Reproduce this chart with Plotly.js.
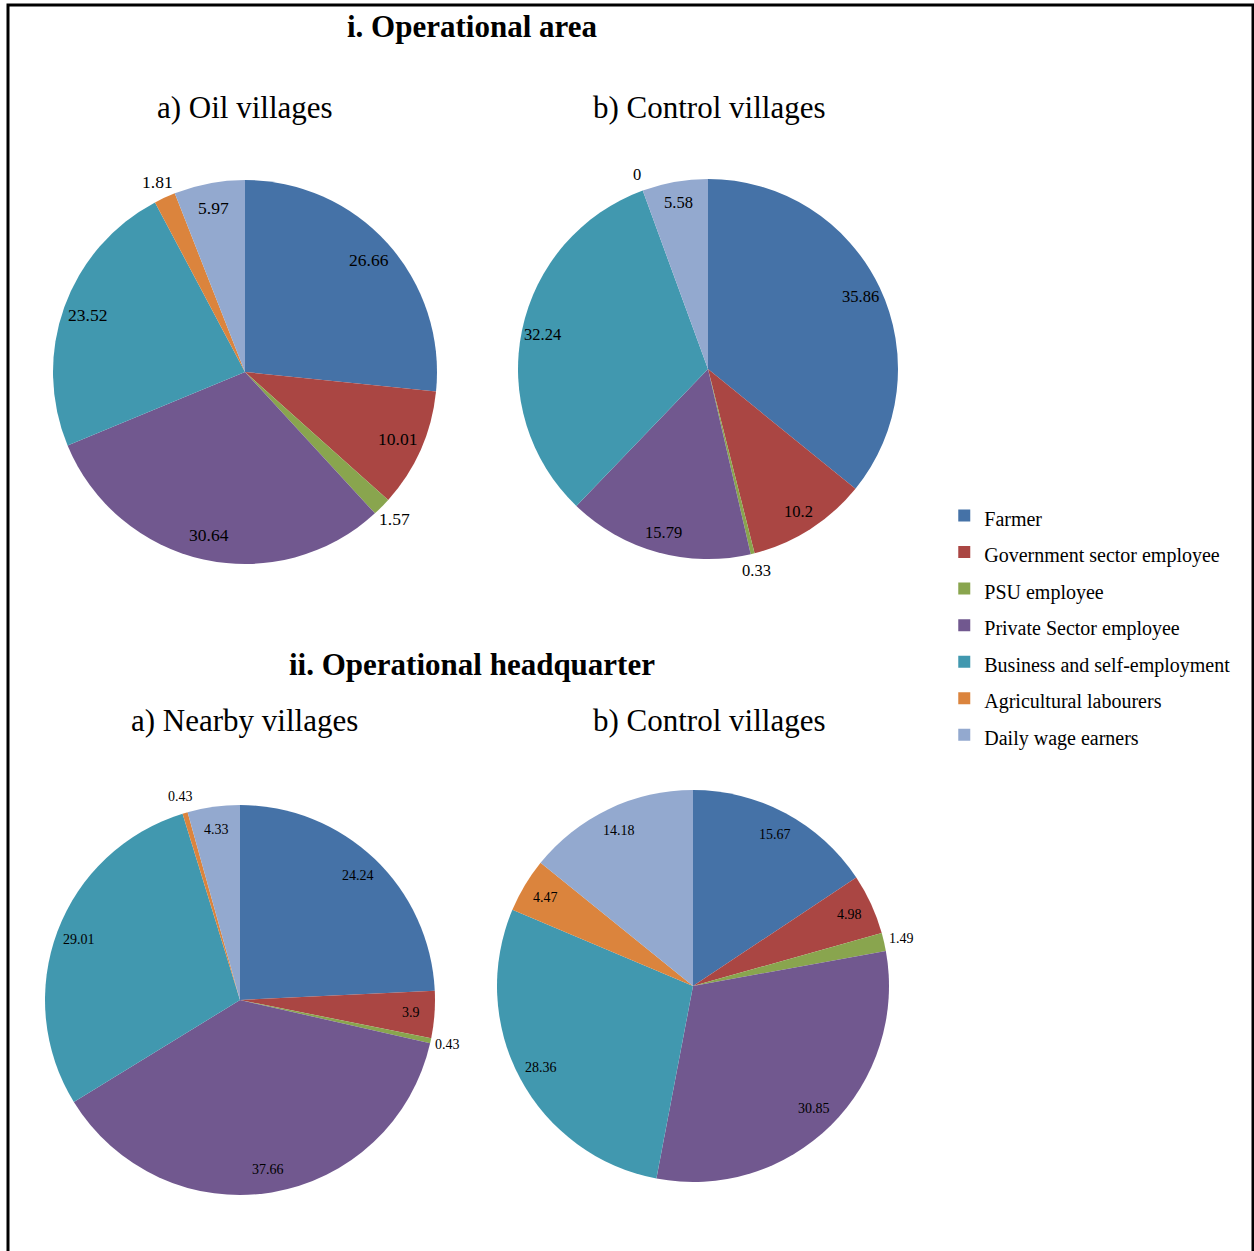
<!DOCTYPE html>
<html>
<head>
<meta charset="utf-8">
<script src="https://cdn.plot.ly/plotly-3.0.1.min.js"></script>
<style>html,body{margin:0;padding:0;background:#fff;}#chart{width:1254px;height:1251px;}</style>
</head>
<body>
<div id="chart"></div>
<script>
// ---- data ----
const categories = ["Farmer", "Government sector employee", "PSU employee", "Private Sector employee",
  "Business and self-employment", "Agricultural labourers", "Daily wage earners"];
const oilValues = [26.66, 10.01, 1.57, 30.64, 23.52, 1.81, 5.97];
const controlAreaValues = [35.86, 10.2, 0.33, 15.79, 32.24, 0, 5.58];
const nearbyValues = [24.24, 3.9, 0.43, 37.66, 29.01, 0.43, 4.33];
const controlHqValues = [15.67, 4.98, 1.49, 30.85, 28.36, 4.47, 14.18];
const colors = ["#4572A7", "#AA4643", "#89A54E", "#71588F", "#4198AF", "#DB843D", "#93A9CF"];

const W = 1254, H = 1251;
const serif = "Liberation Serif, Times New Roman, serif";

// legend labels: same categories, text drawn at 20px inside a taller legend line
const legendLabels = categories.map(c => '<span style="font-size:20px">' + c + '</span>');

// pie geometry in pixels (center, radius)
const pies = [
  {values: oilValues, cx: 245, cy: 372, r: 192, fs: 17.5, fin: 0.87},
  {values: controlAreaValues, cx: 708, cy: 369, r: 190, fs: 16.5, fin: 0.89},
  {values: nearbyValues, cx: 240, cy: 1000, r: 195, fs: 14, fin: 0.88},
  {values: controlHqValues, cx: 693, cy: 986, r: 196, fs: 14, fin: 0.88}
];

const traces = [];
const annotations = [];

pies.forEach((p, i) => {
  traces.push({
    type: "pie",
    labels: legendLabels,
    values: p.values,
    sort: false,
    direction: "clockwise",
    rotation: 0,
    textinfo: "none",
    hoverinfo: "label+value",
    marker: {colors: colors, line: {width: 0}},
    showlegend: i === 0,
    domain: {
      x: [(p.cx - p.r) / W, (p.cx + p.r) / W],
      y: [1 - (p.cy + p.r) / H, 1 - (p.cy - p.r) / H]
    }
  });
  const total = p.values.reduce((a, b) => a + b, 0);
  let cum = 0;
  p.values.forEach(v => {
    const mid = (cum + v / 2) / total * 2 * Math.PI;
    cum += v;
    const f = v < 2 ? 1.09 : p.fin;
    const d = p.r * f;
    annotations.push({
      xref: "paper", yref: "paper",
      x: (p.cx + d * Math.sin(mid)) / W,
      y: 1 - (p.cy - d * Math.cos(mid)) / H,
      text: String(v),
      showarrow: false,
      xanchor: "center", yanchor: "middle",
      font: {family: serif, size: p.fs, color: "#000"}
    });
  });
});

const titles = [
  {text: "<b>i. Operational area</b>", x: 472, y: 27, size: 31},
  {text: "a) Oil villages", x: 245, y: 107, size: 31},
  {text: "b) Control villages", x: 709, y: 107, size: 31},
  {text: "<b>ii. Operational headquarter</b>", x: 472, y: 664, size: 31},
  {text: "a) Nearby villages", x: 244, y: 720, size: 31},
  {text: "b) Control villages", x: 709, y: 720, size: 31}
];
titles.forEach(t => annotations.push({
  xref: "paper", yref: "paper", x: t.x / W, y: 1 - t.y / H,
  text: t.text, showarrow: false, xanchor: "center", yanchor: "middle",
  font: {family: serif, size: t.size, color: "#000"}
}));

const layout = {
  width: W, height: H,
  margin: {l: 0, r: 0, t: 0, b: 0},
  paper_bgcolor: "#fff",
  showlegend: true,
  legend: {
    x: 0.753, y: 0.6065, xanchor: "left", yanchor: "top",
    font: {family: serif, size: 25.8, color: "#000"},
    bgcolor: "rgba(0,0,0,0)", itemwidth: 30
  },
  annotations: annotations,
  shapes: [{
    type: "rect", xref: "paper", yref: "paper",
    x0: 8 / W, x1: 1253 / W, y0: -0.02, y1: 1 - 5 / H,
    line: {color: "#000", width: 3}, fillcolor: "rgba(0,0,0,0)"
  }]
};

Plotly.newPlot("chart", traces, layout, {displayModeBar: false, staticPlot: true});
</script>
</body>
</html>
